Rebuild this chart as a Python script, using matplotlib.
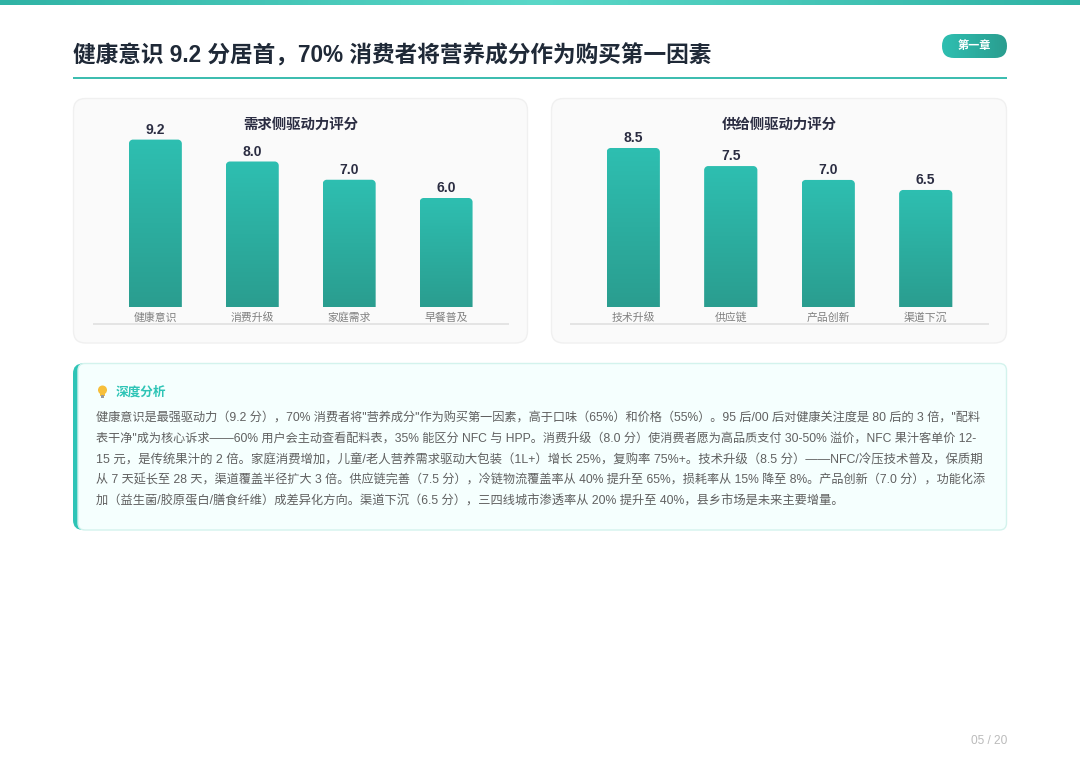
import numpy as np
import matplotlib
matplotlib.use('Agg')
import matplotlib.pyplot as plt
from matplotlib.colors import LinearSegmentedColormap
from matplotlib.patches import FancyBboxPatch, Rectangle, Circle
from matplotlib.path import Path

plt.rcParams['font.family'] = ['Liberation Sans', 'Noto Sans CJK SC', 'DejaVu Sans']

W, H = 1080, 763

demand_names = ['健康意识', '消费升级', '家庭需求', '早餐普及']
demand_scores = [9.2, 8.0, 7.0, 6.0]
demand_labels = ['9.2', '8.0', '7.0', '6.0']

supply_names = ['技术升级', '供应链', '产品创新', '渠道下沉']
# bars on the right are not drawn quite in proportion to their labels, heights read off the picture
supply_scores = [8.74, 7.75, 6.99, 6.44]
supply_labels = ['8.5', '7.5', '7.0', '6.5']

title = '健康意识 9.2 分居首，70% 消费者将营养成分作为购买第一因素'
body_lines = [
    '健康意识是最强驱动力（9.2 分），70% 消费者将"营养成分"作为购买第一因素，高于口味（65%）和价格（55%）。95 后/00 后对健康关注度是 80 后的 3 倍，"配料',
    '表干净"成为核心诉求——60% 用户会主动查看配料表，35% 能区分 NFC 与 HPP。消费升级（8.0 分）使消费者愿为高品质支付 30-50% 溢价，NFC 果汁客单价 12-',
    '15 元，是传统果汁的 2 倍。家庭消费增加，儿童/老人营养需求驱动大包装（1L+）增长 25%，复购率 75%+。技术升级（8.5 分）——NFC/冷压技术普及，保质期',
    '从 7 天延长至 28 天，渠道覆盖半径扩大 3 倍。供应链完善（7.5 分），冷链物流覆盖率从 40% 提升至 65%，损耗率从 15% 降至 8%。产品创新（7.0 分），功能化添',
    '加（益生菌/胶原蛋白/膳食纤维）成差异化方向。渠道下沉（6.5 分），三四线城市渗透率从 20% 提升至 40%，县乡市场是未来主要增量。',
]
body_ends = [986, 977, 985, 985, 843]

bar_cmap = LinearSegmentedColormap.from_list('bar', ['#2ebfb1', '#2a9d8f'])
top_cmap = LinearSegmentedColormap.from_list('top', ['#2fb3a5', '#5ad8c8', '#2fb3a5'])
grad_v = np.linspace(0, 1, 256).reshape(-1, 1)
grad_h = np.linspace(0, 1, 512).reshape(1, -1)

fig = plt.figure(figsize=(W / 100, H / 100), dpi=100, facecolor='white')
bg = fig.add_axes([0, 0, 1, 1])
bg.set_xlim(0, W)
bg.set_ylim(H, 0)
bg.axis('off')


def round_box(x0, y0, x1, y1, r, **kw):
    p = FancyBboxPatch((x0 + r, y0 + r), x1 - x0 - 2 * r, y1 - y0 - 2 * r,
                       boxstyle='round,pad=%f,rounding_size=%f' % (r, r), **kw)
    bg.add_patch(p)
    return p


def fit_text(t, x_start, x_end):
    # scale the font so that the line ends where it ends in the picture
    renderer = fig.canvas.get_renderer()
    w = t.get_window_extent(renderer).width
    t.set_fontsize(t.get_fontsize() * (x_end - x_start) / w)


# top strip
bg.imshow(grad_h, cmap=top_cmap, extent=(0, W, 5, 0), aspect='auto', zorder=1)

# header
head = bg.text(73, 62.5, title, fontsize=16, fontweight='bold', color='#1f2937', va='baseline', ha='left')
fit_text(head, 73, 713)
bg.add_patch(Rectangle((73, 77), 934, 2, color='#3dbdb0', lw=0))
badge = round_box(942, 34, 1007, 58, 12, fc='none', ec='none')
im = bg.imshow(grad_h, cmap=bar_cmap, extent=(942, 1007, 58, 34), aspect='auto', zorder=2)
im.set_clip_path(badge)
bg.text(974.5, 45.5, '第一章', fontsize=8, fontweight='bold', color='white', ha='center', va='center', zorder=3)

# chart cards
round_box(73.5, 98.5, 527.5, 343, 12, fc='#fafafa', ec='#f0f0f0', lw=1)
round_box(551.5, 98.5, 1006.5, 343, 12, fc='#fafafa', ec='#f0f0f0', lw=1)
bg.text(300.5, 125, '需求侧驱动力评分', fontsize=10.4, fontweight='bold', color='#2b2d42', ha='center', va='center')
bg.text(779.5, 125, '供给侧驱动力评分', fontsize=10.4, fontweight='bold', color='#2b2d42', ha='center', va='center')


def draw_bars(px_left, px_right, names, scores, labels):
    px_top, px_bottom, px_zero, per_unit = 100, 324, 307.5, 18.25
    ax = fig.add_axes([px_left / W, 1 - px_bottom / H, (px_right - px_left) / W, (px_bottom - px_top) / H])
    ax.patch.set_alpha(0)
    x = np.arange(len(names))
    rects = ax.bar(x, scores, width=0.546, color='none')
    ax.bar_label(rects, labels=labels, padding=2, fontsize=10, fontweight='bold', color='#2b2d42')
    rx, ry = 4 / 97, 4 / per_unit
    k = 0.45
    for r in rects:
        x0, x1 = r.get_x(), r.get_x() + r.get_width()
        top = r.get_height()
        im = ax.imshow(grad_v, cmap=bar_cmap, extent=(x0, x1, 0, top), aspect='auto', zorder=2)
        # rounded top corners only, the foot of the clip hangs below the baseline
        verts = [(x0, -1), (x0, top - ry), (x0, top - ry * k), (x0 + rx * k, top), (x0 + rx, top),
                 (x1 - rx, top), (x1 - rx * k, top), (x1, top - ry * k), (x1, top - ry),
                 (x1, -1), (x0, -1)]
        codes = [Path.MOVETO, Path.LINETO, Path.CURVE4, Path.CURVE4, Path.CURVE4, Path.LINETO,
                 Path.CURVE4, Path.CURVE4, Path.CURVE4, Path.LINETO, Path.CLOSEPOLY]
        im.set_clip_path(Path(verts, codes), transform=ax.transData)
    ax.set_xlim(-0.649, 3.649)
    ax.set_ylim((px_zero - px_bottom) / per_unit, (px_zero - px_top) / per_unit)
    ax.set_xticks(x, names)
    ax.set_yticks([])
    ax.tick_params(axis='x', length=0, pad=-2.2, labelsize=7.8, labelcolor='#808080')
    for lab in ax.get_xticklabels():
        lab.set_va('baseline')
    for s in ['top', 'left', 'right', 'bottom']:
        ax.spines[s].set_visible(False)
    # axis line sits under the tick labels, drawn on the page layer
    bg.add_patch(Rectangle((px_left, 323), px_right - px_left, 2, fc='#e4e4e4', ec='none', zorder=2))
    return ax


draw_bars(92.5, 509, demand_names, demand_scores, demand_labels)
draw_bars(570, 989, supply_names, supply_scores, supply_labels)

# analysis box
round_box(73, 363.5, 110, 530, 10, fc='#2ec4b6', ec='none', zorder=1)
round_box(78, 363.5, 1006.5, 530, 7, fc='#f5fffe', ec='#d3f3ed', lw=1, zorder=1.5)

# bulb icon, no emoji font available
bg.add_patch(Circle((102.5, 390), 4.5, fc='#f7bf3a', ec='none', zorder=3))
bg.add_patch(Rectangle((100.3, 392), 4.4, 3.5, fc='#f7bf3a', ec='none', zorder=3))
bg.add_patch(Rectangle((100.8, 395), 3.4, 2.5, fc='#9a9a9a', ec='none', zorder=3))

bg.text(115.5, 392, '深度分析', fontsize=9.1, fontweight='bold', color='#2ec4b6', va='center', ha='left', zorder=3)
line_ys = [422, 443, 464, 484, 505]
for line, y, end in zip(body_lines, line_ys, body_ends):
    t = bg.text(95.5, y, line, fontsize=8.9, color='#606060', va='baseline', ha='left', zorder=3)
    fit_text(t, 95.5, end)

bg.text(1007, 740.5, '05 / 20', fontsize=8.6, color='#bbbbbb', ha='right', va='center')

bg.set_xlim(0, W)
bg.set_ylim(H, 0)
fig.savefig('out.png', dpi=100)
